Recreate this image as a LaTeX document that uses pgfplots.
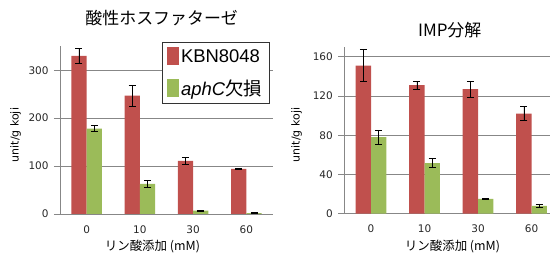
\documentclass[border=0pt]{standalone}
\usepackage{pgfplots}
\pgfplotsset{compat=1.18}
\usepackage{fontspec}
\setmainfont{DejaVu Sans}
\newfontfamily\cjk{Noto Sans CJK JP}
\newfontfamily\arial{Liberation Sans}
\definecolor{xred}{HTML}{C0504D}
\definecolor{xgreen}{HTML}{9BBB59}
\definecolor{gridc}{HTML}{878787}
\pgfplotsset{
 mybar/.style={
  scale only axis, anchor=south west,
  ybar,
  /pgf/number format/assume math mode=true,
  xmin=-0.5, xmax=3.5,
  xtick={0,1,2,3}, xticklabels={0,10,30,60},
  xtick style={draw=none},
  extra x ticks={-0.5,0.5,1.5,2.5,3.5},
  extra x tick labels={},
  extra x tick style={grid=none, major tick length=5bp, tick style={draw=gridc, line width=0.8pt}},
  axis x line=bottom, axis y line=left,
  axis line style={-, draw=gridc, line width=0.8pt},
  tick align=outside,
  ytick style={draw=gridc, line width=0.8pt},
  major tick length=6bp,
  ymajorgrids, grid style={draw=gridc, line width=0.8pt},
  ymin=0,
  ticklabel style={font=\fontsize{10.5}{12}\selectfont, text=black!85},
  yticklabel style={xshift=-2bp},
  xticklabel style={yshift=-2bp},
  xlabel={\cjk リン酸添加 (mM)},
  xlabel style={font=\fontsize{12.5}{14}\selectfont, anchor=center},
  ylabel={unit/g koji},
  ylabel style={font=\fontsize{11}{13}\selectfont, anchor=center},
  title style={font=\cjk\fontsize{17}{19}\selectfont, anchor=center},
  bar width=0.287,
  error bars/y dir=both, error bars/y explicit,
  error bars/error bar style={black, line width=0.7pt},
  error bars/error mark options={black, line width=0.7pt, mark size=3.5bp, rotate=90},
 },
}
\begin{document}
\begin{tikzpicture}
\useasboundingbox (0,0) rectangle (550bp,253bp);
\clip (0,0) rectangle (550bp,253bp);
\begin{axis}[mybar,
  at={(60bp,39bp)}, width=213bp, height=167.7bp,
  ymax=350, ytick={0,100,200,300},
  title={酸性ホスファターゼ},
  title style={at={(rel axis cs:0.4775,1.131)}},
  xlabel style={at={(axis description cs:0.434,-0.195)}},
  ylabel style={at={(axis description cs:-0.208,0.471)}},
  legend style={at={(rel axis cs:0.4775,1.027)}, anchor=north west,
    draw=black!80, line width=0.8pt, fill=white,
    font=\fontsize{18.5}{20}\selectfont, inner xsep=5bp, inner ysep=5bp, row sep=12bp,
    cells={anchor=west}},
  legend image code/.code={\fill[#1] (0bp,-9bp) rectangle (12bp,9bp);},
]
\addplot[fill=xred, draw=none, bar shift=-0.1435] coordinates {
 (0,330) +- (0,16)
 (1,247) +- (0,22)
 (2,111) +- (0,7)
 (3,94) +- (0,1.5)
};
\addplot[fill=xgreen, draw=none, bar shift=0.1435] coordinates {
 (0,178) +- (0,6)
 (1,63) +- (0,7)
 (2,7) +- (0,1)
 (3,2) +- (0,0.5)
};
\legend{{\arial KBN8048},{\arial\textit{aphC}\cjk 欠損}}
\end{axis}
\begin{axis}[mybar,
  at={(344.3bp,39.3bp)}, width=214bp, height=166.8bp,
  ymax=170, ytick={0,40,80,120,160},
  title={IMP分解},
  title style={at={(rel axis cs:0.4925,1.066)}},
  xlabel style={at={(axis description cs:0.5056,-0.194)}},
  ylabel style={at={(axis description cs:-0.2224,0.472)}},
]
\addplot[fill=xred, draw=none, bar shift=-0.1435] coordinates {
 (0,151) +- (0,16.5)
 (1,131) +- (0,4)
 (2,127) +- (0,8)
 (3,102) +- (0,7)
};
\addplot[fill=xgreen, draw=none, bar shift=0.1435] coordinates {
 (0,78) +- (0,7)
 (1,51.5) +- (0,4.5)
 (2,15) +- (0,0.6)
 (3,8) +- (0,2)
};
\end{axis}
\end{tikzpicture}
\end{document}
